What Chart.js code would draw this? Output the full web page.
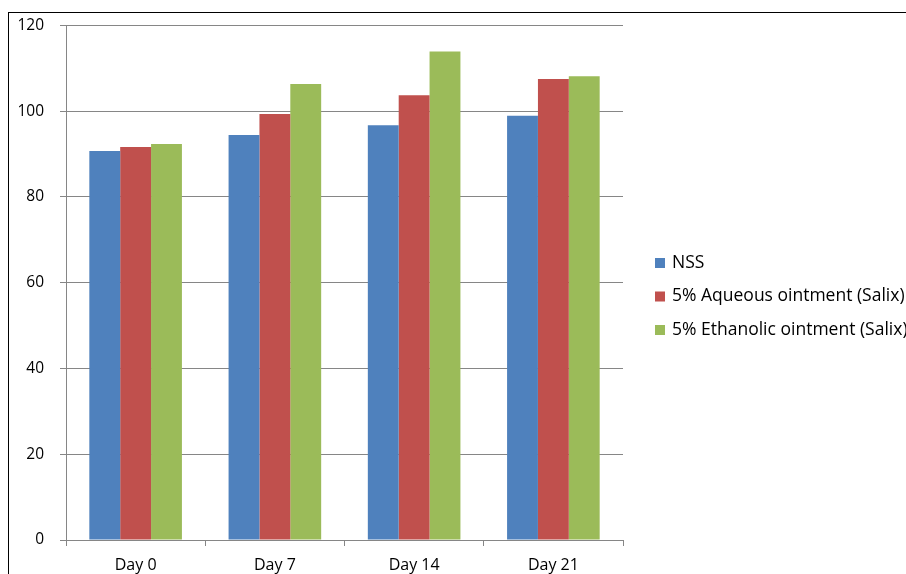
<!DOCTYPE html>
<html><head><meta charset="utf-8">
<script src="https://cdn.jsdelivr.net/npm/chart.js@4/dist/chart.umd.min.js"></script>
<style>html,body{margin:0;padding:0;background:#fff;}#wrap{width:906px;height:574px;position:relative;}</style>
</head><body><div id="wrap"><canvas id="c" width="906" height="574"></canvas></div>
<script>
const categories = ["Day 0", "Day 7", "Day 14", "Day 21"];
const seriesNames = ["NSS", "5% Aqueous ointment (Salix)", "5% Ethanolic ointment (Salix)"];
const nss = [90.7, 94.4, 96.7, 98.9];
const aqueous = [91.6, 99.3, 103.7, 107.5];
const ethanolic = [92.3, 106.3, 113.9, 108.1];
const yTicks = [0, 20, 40, 60, 80, 100, 120];
const colors = ["#4F81BD", "#C0504D", "#9BBB59"];

const FONT = "'Open Sans', sans-serif";

const framePlugin = {
  id: 'frame',
  beforeDraw(chart) {
    const ctx = chart.ctx;
    ctx.save();
    ctx.fillStyle = '#fff';
    ctx.fillRect(0, 0, chart.width, chart.height);
    ctx.strokeStyle = '#000';
    ctx.lineWidth = 1;
    ctx.strokeRect(8.5, 12.5, 2000, 2000);
    ctx.restore();
  },
  afterDraw(chart) {
    const ctx = chart.ctx;
    ctx.save();
    ctx.font = "17.5px " + FONT;
    ctx.textBaseline = 'middle';
    chart.data.datasets.forEach((ds, i) => {
      const y = 263 + i * 33.5;
      ctx.fillStyle = ds.backgroundColor;
      ctx.fillRect(655, y - 5, 10, 10);
      ctx.fillStyle = '#000';
      ctx.fillText(ds.label, 672, y);
    });
    ctx.restore();
  }
};

new Chart(document.getElementById('c'), {
  type: 'bar',
  data: {
    labels: categories,
    datasets: [
      { label: seriesNames[0], data: nss, backgroundColor: colors[0] },
      { label: seriesNames[1], data: aqueous, backgroundColor: colors[1] },
      { label: seriesNames[2], data: ethanolic, backgroundColor: colors[2] }
    ]
  },
  options: {
    responsive: false,
    animation: false,
    devicePixelRatio: 1,
    layout: { padding: { left: 0, top: 22, right: 283, bottom: 0 } },
    datasets: { bar: { categoryPercentage: 0.665, barPercentage: 1.0, borderWidth: 0 } },
    plugins: { legend: { display: false }, tooltip: { enabled: false } },
    scales: {
      x: {
        offset: true,
        grid: { display: true, offset: true, drawOnChartArea: false, drawTicks: true, tickLength: 6, color: '#868686' },
        border: { display: true, color: '#868686', width: 1 },
        ticks: { color: '#000', font: { family: FONT, size: 16 }, padding: 10 },
        afterFit(s) { s.height = 34; }
      },
      y: {
        min: 0, max: 120,
        afterBuildTicks(s) { s.ticks = yTicks.map(v => ({ value: v })); },
        grid: { color: '#868686', tickLength: 6, drawTicks: true },
        border: { display: true, color: '#868686', width: 1 },
        ticks: { color: '#000', font: { family: FONT, size: 15.5 }, padding: 16 },
        afterFit(s) { s.width = 66; }
      }
    }
  },
  plugins: [framePlugin]
});
</script></body></html>
